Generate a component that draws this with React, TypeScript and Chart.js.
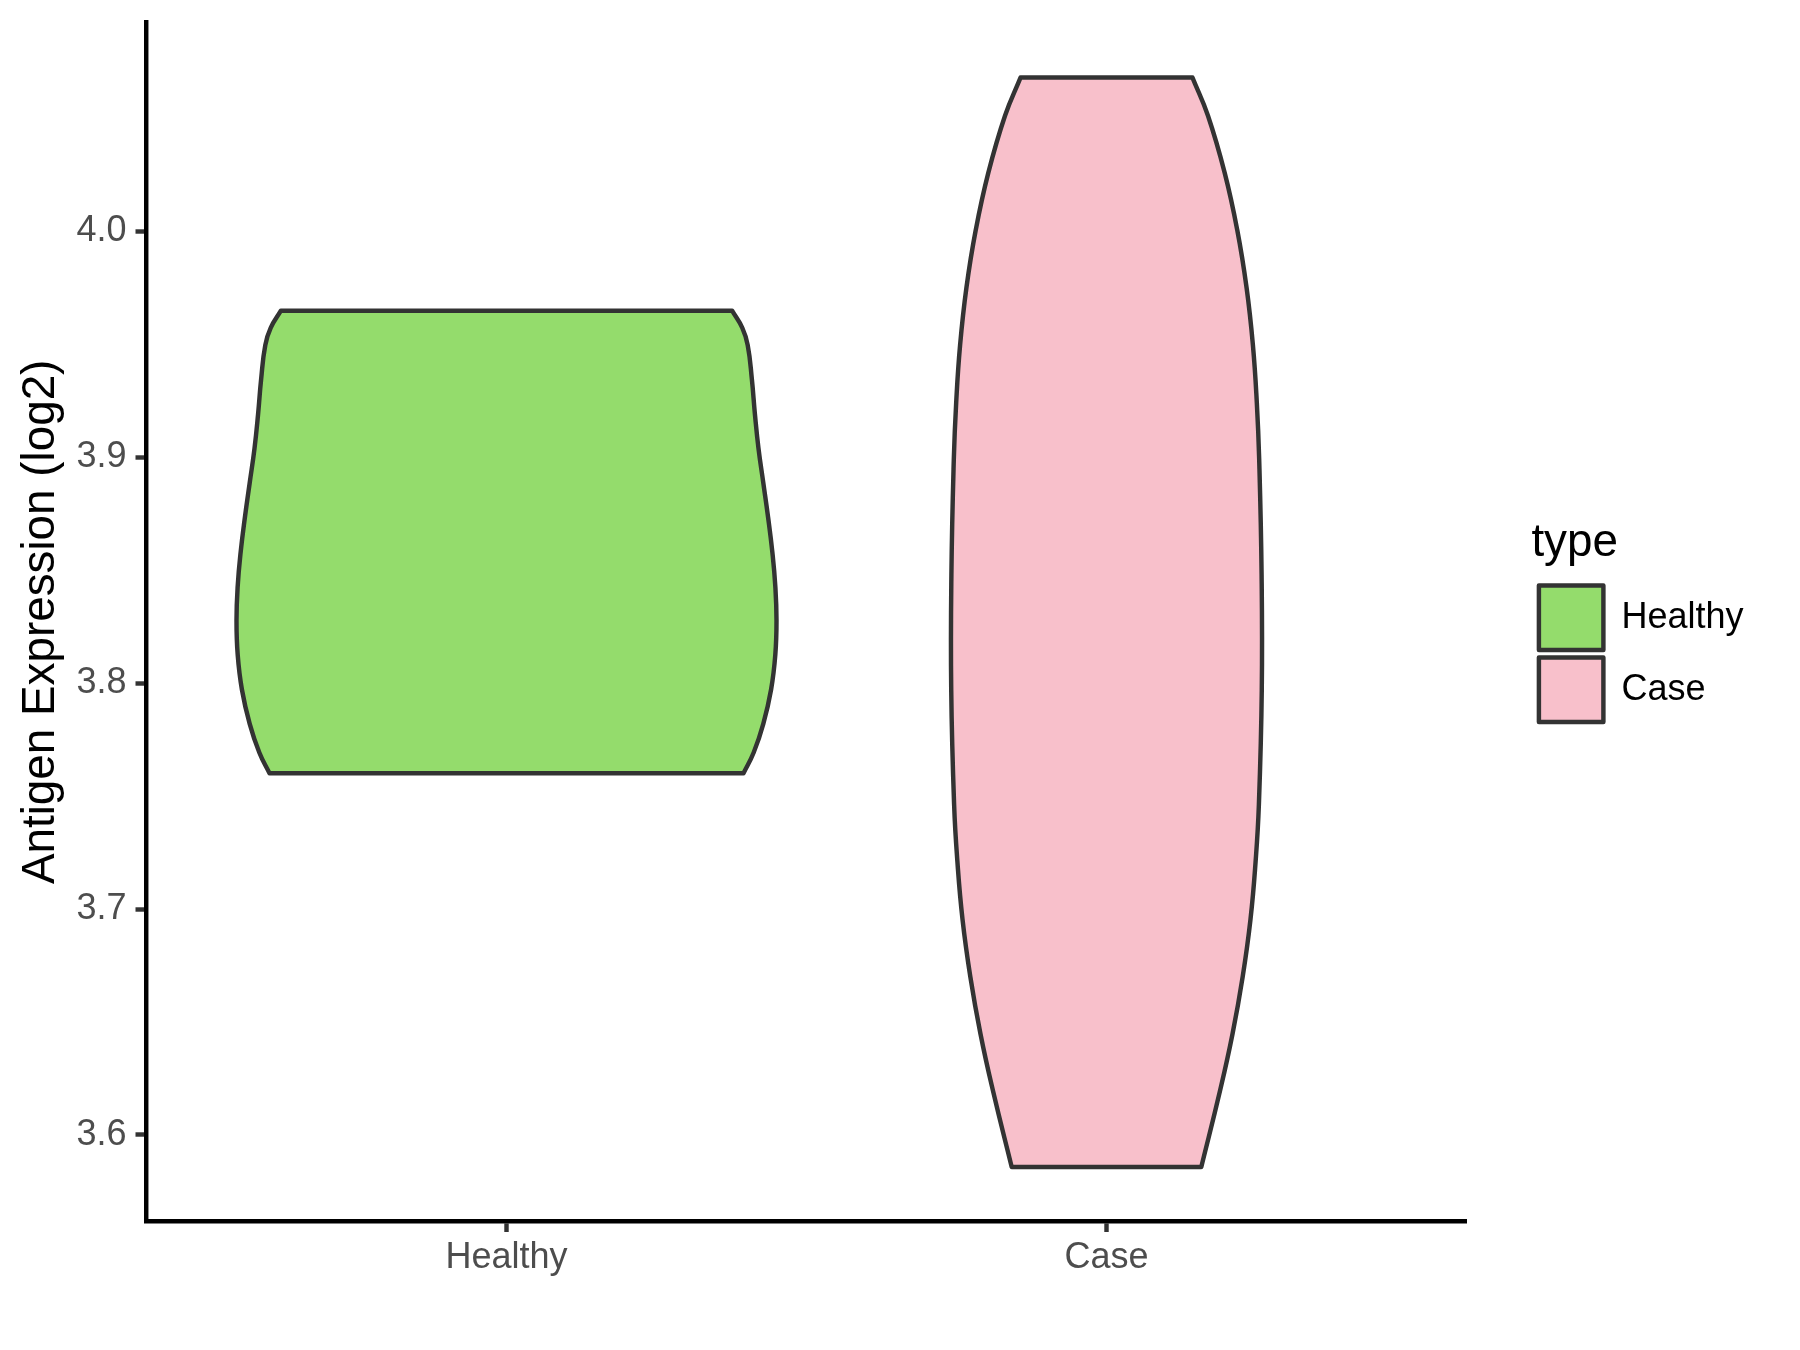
import React, { useEffect, useRef } from 'react';
import { Chart, registerables } from 'chart.js';

Chart.register(...registerables);

// ---- data ----
const categories = ['Healthy', 'Case'];
const yTicks = [3.6, 3.7, 3.8, 3.9, 4.0];
const yTitle = 'Antigen Expression (log2)';
const legendTitle = 'type';

// violin outlines: expression levels (ascending) and half-widths (in category units)
const healthyLevels = [3.7601, 3.7693, 3.782, 3.7972, 3.8125, 3.8277, 3.843, 3.8582, 3.8734, 3.8887, 3.9039, 3.9192, 3.9344, 3.9497, 3.9573, 3.9649];
const healthyHalfWidths = [0.395, 0.412, 0.428, 0.441, 0.448, 0.45, 0.448, 0.443, 0.436, 0.428, 0.42, 0.414, 0.409, 0.402, 0.393, 0.376];

const caseLevels = [3.5858, 3.6193, 3.6447, 3.6701, 3.6955, 3.721, 3.7464, 3.7972, 3.848, 3.8989, 3.9243, 3.9497, 3.975, 4.0005, 4.0259, 4.0513, 4.0681];
const caseHalfWidths = [0.158, 0.189, 0.21, 0.227, 0.24, 0.2485, 0.254, 0.2588, 0.2585, 0.2545, 0.2505, 0.244, 0.2335, 0.218, 0.197, 0.169, 0.1433];

const yMin = 3.5619;
const yMax = 4.0924;

// builds closed outline; corner points are doubled so that flat ends stay straight
function outline(center: number, levels: number[], widths: number[]) {
  const n = levels.length;
  const pts: { x: number; y: number }[] = [];
  pts.push({ x: center, y: levels[0] });
  for (let i = 0; i < n; i++) {
    const p = { x: center + widths[i], y: levels[i] };
    pts.push(p);
    if (i === 0 || i === n - 1) pts.push({ ...p });
  }
  for (let i = n - 1; i >= 0; i--) {
    const p = { x: center - widths[i], y: levels[i] };
    pts.push(p);
    if (i === 0 || i === n - 1) pts.push({ ...p });
  }
  pts.push({ x: center, y: levels[0] });
  return pts;
}

const FONT = "'Liberation Sans', Arial, Helvetica, sans-serif";
const OUTLINE = '#333333';
const LW = 4.45;

const LEGEND_FONT = 36;
const LEGEND_BOX = 64.5;
const LEGEND_PAD = 7.5;
const PLOT_RIGHT = 1466.5;
const GAP = 64.9;

function textWidth(txt: string, size: number) {
  const c = document.createElement('canvas').getContext('2d');
  if (!c) return txt.length * size * 0.55;
  c.font = `${size}px ${FONT}`;
  return c.measureText(txt).width;
}

export default function App() {
  const ref = useRef<HTMLCanvasElement>(null);
  useEffect(() => {
    if (!ref.current) return;
    Chart.defaults.font.family = FONT;
    const maxText = Math.max(...categories.map((c) => textWidth(c, LEGEND_FONT)));
    const legendW = LEGEND_PAD + LEGEND_BOX + LEGEND_FONT / 2 + maxText + 10;
    const padRight = Math.max(0, 1800 - PLOT_RIGHT - GAP - legendW);
    const zeroPad = (s: any) => {
      s.paddingTop = 0;
      s.paddingBottom = 0;
      s.paddingLeft = 0;
      s.paddingRight = 0;
    };
    const chart = new Chart(ref.current, {
      type: 'line',
      data: {
        datasets: [
          {
            label: categories[0],
            data: outline(1, healthyLevels, healthyHalfWidths),
            backgroundColor: '#94DC6C',
            borderColor: OUTLINE,
            borderWidth: LW,
            fill: 'shape',
            tension: 0.45,
            pointRadius: 0,
            pointHoverRadius: 0,
            borderJoinStyle: 'round',
          },
          {
            label: categories[1],
            data: outline(2, caseLevels, caseHalfWidths),
            backgroundColor: '#F8C0CB',
            borderColor: OUTLINE,
            borderWidth: LW,
            fill: 'shape',
            tension: 0.45,
            pointRadius: 0,
            pointHoverRadius: 0,
            borderJoinStyle: 'round',
          },
        ],
      } as any,
      options: {
        animation: false,
        responsive: false,
        maintainAspectRatio: false,
        devicePixelRatio: 1,
        events: [],
        layout: { padding: { top: 22.7, right: padRight, bottom: 0, left: 0 } },
        plugins: {
          tooltip: { enabled: false },
          legend: {
            display: true,
            position: 'right',
            align: 'center',
            fullSize: false,
            title: {
              display: true,
              text: legendTitle,
              color: '#000000',
              font: { family: FONT, size: 45.8 },
              padding: { top: 5.9, bottom: 2.9 },
              position: 'start',
            },
            labels: {
              boxWidth: LEGEND_BOX,
              boxHeight: LEGEND_BOX,
              padding: LEGEND_PAD,
              color: '#000000',
              font: { family: FONT, size: LEGEND_FONT },
            },
          },
        },
        scales: {
          x: {
            type: 'linear',
            position: 'bottom',
            min: 0.4,
            max: 2.6,
            afterBuildTicks: (s: any) => {
              s.ticks = categories.map((_, i) => ({ value: i + 1 }));
            },
            afterFit: (s: any) => {
              s.height = 129;
              zeroPad(s);
            },
            ticks: {
              autoSkip: false,
              maxRotation: 0,
              minRotation: 0,
              padding: 7.6,
              color: '#4D4D4D',
              font: { family: FONT, size: 36, lineHeight: 1 },
              callback: (v: any) => categories[Math.round(Number(v)) - 1],
            },
            grid: {
              display: true,
              drawOnChartArea: false,
              drawTicks: true,
              tickLength: 11,
              tickWidth: LW,
              tickColor: OUTLINE,
            },
            border: { display: true, color: '#000000', width: LW },
          },
          y: {
            type: 'linear',
            position: 'left',
            min: yMin,
            max: yMax,
            afterBuildTicks: (s: any) => {
              s.ticks = yTicks.map((v) => ({ value: v }));
            },
            afterFit: (s: any) => {
              s.width = 146.5;
              zeroPad(s);
            },
            ticks: {
              padding: 9,
              color: '#4D4D4D',
              font: { family: FONT, size: 36 },
              callback: (v: any) => Number(v).toFixed(1),
            },
            grid: {
              display: true,
              drawOnChartArea: false,
              drawTicks: true,
              tickLength: 11,
              tickWidth: LW,
              tickColor: OUTLINE,
            },
            border: { display: true, color: '#000000', width: LW },
            title: {
              display: true,
              text: yTitle,
              color: '#000000',
              font: { family: FONT, size: 45.8, lineHeight: 1 },
              padding: { top: 18.5, bottom: 0 },
            },
          },
          gap: {
            type: 'linear',
            position: 'right',
            display: true,
            ticks: { display: false },
            grid: { display: false, drawTicks: false },
            border: { display: false },
            afterFit: (s: any) => {
              s.width = GAP;
              zeroPad(s);
            },
          },
        },
      } as any,
    });
    return () => chart.destroy();
  }, []);

  return (
    <div style={{ position: 'absolute', left: 0, top: 0, width: 1800, height: 1350, background: '#ffffff' }}>
      <canvas ref={ref} width={1800} height={1350} style={{ display: 'block', width: 1800, height: 1350 }} />
    </div>
  );
}
